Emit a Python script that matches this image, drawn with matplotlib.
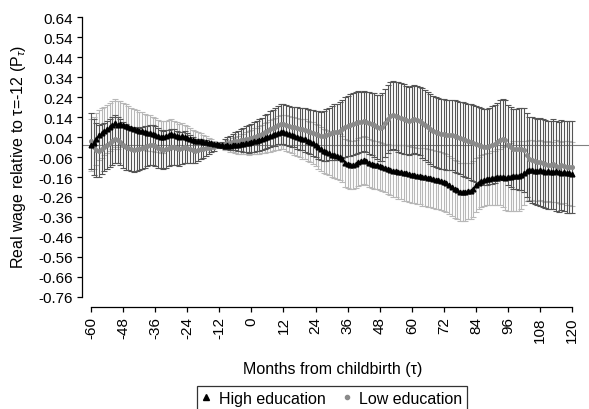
import numpy as np
import matplotlib
matplotlib.use('Agg')
import matplotlib.pyplot as plt
from matplotlib.lines import Line2D

plt.rcParams['font.family'] = ['Liberation Sans', 'DejaVu Sans']
plt.rcParams['mathtext.fontset'] = 'custom'
plt.rcParams['mathtext.rm'] = 'Liberation Sans'
plt.rcParams['mathtext.it'] = 'Liberation Sans:italic'

# months relative to childbirth
months = np.arange(-60, 121)

# high education: point estimate and half-width of confidence band
high_est = [
    0.00, 0.01, 0.03, 0.05, 0.06, 0.07, 0.08, 0.09, 0.10, 0.11, 0.10, 0.105,
    0.10, 0.095, 0.09, 0.085, 0.08, 0.075, 0.07, 0.07, 0.065, 0.06, 0.06, 0.055,
    0.05, 0.045, 0.04, 0.04, 0.045, 0.05, 0.055, 0.05, 0.045, 0.04, 0.045, 0.04,
    0.035, 0.03, 0.025, 0.02, 0.02, 0.02, 0.015, 0.015, 0.01, 0.01, 0.005, 0.005,
    0.0,
    0.0, -0.005, 0.0, -0.005, 0.0, 0.0, 0.0, 0.005, 0.005, 0.01, 0.01, 0.015,
    0.02, 0.02, 0.025, 0.03, 0.035, 0.04, 0.045, 0.05, 0.055, 0.06, 0.065, 0.065,
    0.06, 0.055, 0.05, 0.045, 0.04, 0.035, 0.03, 0.03, 0.02, 0.015, 0.01, 0.0,
    -0.01, -0.02, -0.03, -0.035, -0.04, -0.05, -0.05, -0.055, -0.06, -0.07, -0.09, -0.095,
    -0.10, -0.10, -0.095, -0.085, -0.08, -0.075, -0.08, -0.09, -0.095, -0.10, -0.10, -0.105,
    -0.11, -0.115, -0.12, -0.125, -0.13, -0.13, -0.135, -0.135, -0.14, -0.14, -0.145, -0.15,
    -0.15, -0.155, -0.155, -0.16, -0.16, -0.165, -0.165, -0.17, -0.175, -0.175, -0.18, -0.185,
    -0.19, -0.20, -0.21, -0.22, -0.225, -0.235, -0.235, -0.235, -0.23, -0.23, -0.22, -0.20,
    -0.19, -0.18, -0.175, -0.17, -0.17, -0.165, -0.165, -0.16, -0.16, -0.16, -0.165, -0.16,
    -0.16, -0.155, -0.155, -0.155, -0.15, -0.14, -0.13, -0.125, -0.125, -0.13, -0.13, -0.125,
    -0.13, -0.135, -0.13, -0.135, -0.135, -0.13, -0.135, -0.14, -0.135, -0.14, -0.14, -0.145,
]
high_ci = [
    0.13, 0.13, 0.13, 0.125, 0.125, 0.12, 0.12, 0.12, 0.12, 0.12, 0.12, 0.115,
    0.11, 0.11, 0.105, 0.10, 0.10, 0.10, 0.095, 0.095, 0.09, 0.09, 0.09, 0.085,
    0.085, 0.08, 0.08, 0.08, 0.075, 0.075, 0.075, 0.07, 0.07, 0.065, 0.065, 0.06,
    0.06, 0.055, 0.05, 0.05, 0.045, 0.04, 0.035, 0.03, 0.025, 0.02, 0.015, 0.01,
    0.0,
    0.01, 0.02, 0.025, 0.03, 0.035, 0.04, 0.045, 0.05, 0.05, 0.055, 0.06, 0.06,
    0.065, 0.065, 0.07, 0.07, 0.075, 0.075, 0.08, 0.08, 0.08, 0.085, 0.085, 0.085,
    0.09, 0.09, 0.09, 0.095, 0.095, 0.095, 0.10, 0.10, 0.10, 0.10, 0.105, 0.105,
    0.11, 0.11, 0.11, 0.11, 0.11, 0.11, 0.115, 0.115, 0.115, 0.115, 0.12, 0.12,
    0.12, 0.12, 0.12, 0.12, 0.12, 0.12, 0.12, 0.12, 0.12, 0.12, 0.12, 0.12,
    0.12, 0.12, 0.125, 0.125, 0.13, 0.13, 0.135, 0.135, 0.14, 0.14, 0.14, 0.14,
    0.14, 0.14, 0.14, 0.145, 0.145, 0.145, 0.145, 0.145, 0.145, 0.145, 0.145, 0.145,
    0.145, 0.145, 0.145, 0.145, 0.145, 0.145, 0.145, 0.145, 0.14, 0.14, 0.14, 0.135,
    0.13, 0.13, 0.13, 0.13, 0.13, 0.135, 0.135, 0.14, 0.14, 0.15, 0.16, 0.17,
    0.17, 0.175, 0.175, 0.175, 0.17, 0.16, 0.15, 0.15, 0.15, 0.15, 0.15, 0.15,
    0.15, 0.15, 0.15, 0.15, 0.15, 0.155, 0.155, 0.155, 0.155, 0.16, 0.16, 0.16,
]

# low education: point estimate and half-width of confidence band
low_est = [
    0.02, -0.01, -0.025, -0.03, -0.02, -0.01, 0.0, 0.01, 0.02, 0.03, 0.025, 0.015,
    0.0, -0.01, -0.015, -0.02, -0.025, -0.02, -0.02, -0.015, -0.01, -0.005, 0.0, 0.0,
    -0.005, -0.015, -0.02, -0.025, -0.02, -0.015, -0.01, -0.01, -0.015, -0.02, -0.015, -0.01,
    -0.015, -0.02, -0.025, -0.03, -0.025, -0.02, -0.02, -0.015, -0.015, -0.01, -0.01, -0.005,
    0.0,
    0.0, 0.005, 0.01, 0.01, 0.015, 0.02, 0.02, 0.025, 0.025, 0.03, 0.03, 0.035,
    0.04, 0.045, 0.05, 0.055, 0.065, 0.07, 0.08, 0.085, 0.09, 0.10, 0.105, 0.105,
    0.10, 0.095, 0.09, 0.09, 0.085, 0.08, 0.08, 0.075, 0.07, 0.065, 0.06, 0.055,
    0.05, 0.045, 0.045, 0.05, 0.055, 0.06, 0.065, 0.065, 0.07, 0.08, 0.09, 0.095,
    0.10, 0.105, 0.11, 0.115, 0.115, 0.12, 0.115, 0.11, 0.105, 0.10, 0.09, 0.085,
    0.09, 0.11, 0.13, 0.145, 0.15, 0.145, 0.14, 0.135, 0.13, 0.125, 0.12, 0.125,
    0.13, 0.125, 0.12, 0.11, 0.10, 0.09, 0.08, 0.07, 0.065, 0.06, 0.055, 0.055,
    0.05, 0.05, 0.05, 0.045, 0.04, 0.035, 0.03, 0.025, 0.02, 0.015, 0.01, 0.005,
    0.0, -0.005, -0.01, -0.01, -0.005, 0.0, 0.005, 0.015, 0.025, 0.03, 0.025, 0.0,
    -0.01, -0.02, -0.02, -0.02, -0.02, -0.025, -0.05, -0.07, -0.075, -0.08, -0.085, -0.085,
    -0.09, -0.095, -0.10, -0.10, -0.095, -0.105, -0.11, -0.10, -0.105, -0.11, -0.11, -0.11,
]
low_ci = [
    0.14, 0.14, 0.135, 0.13, 0.125, 0.12, 0.12, 0.12, 0.12, 0.12, 0.115, 0.115,
    0.115, 0.115, 0.11, 0.11, 0.11, 0.11, 0.105, 0.105, 0.105, 0.10, 0.10, 0.10,
    0.10, 0.10, 0.095, 0.095, 0.095, 0.09, 0.09, 0.09, 0.085, 0.085, 0.08, 0.08,
    0.075, 0.07, 0.065, 0.06, 0.055, 0.05, 0.045, 0.04, 0.03, 0.025, 0.02, 0.01,
    0.0,
    0.015, 0.025, 0.03, 0.035, 0.04, 0.045, 0.05, 0.055, 0.06, 0.065, 0.07, 0.07,
    0.075, 0.075, 0.08, 0.08, 0.085, 0.085, 0.09, 0.09, 0.095, 0.095, 0.10, 0.10,
    0.10, 0.10, 0.10, 0.10, 0.105, 0.105, 0.105, 0.11, 0.11, 0.11, 0.115, 0.115,
    0.12, 0.12, 0.125, 0.13, 0.13, 0.135, 0.14, 0.14, 0.145, 0.145, 0.15, 0.15,
    0.155, 0.155, 0.155, 0.155, 0.15, 0.15, 0.15, 0.155, 0.155, 0.16, 0.16, 0.165,
    0.17, 0.17, 0.17, 0.17, 0.17, 0.17, 0.175, 0.175, 0.175, 0.17, 0.17, 0.17,
    0.17, 0.17, 0.17, 0.175, 0.175, 0.175, 0.175, 0.175, 0.175, 0.175, 0.175, 0.175,
    0.175, 0.175, 0.175, 0.18, 0.18, 0.18, 0.185, 0.185, 0.185, 0.19, 0.19, 0.19,
    0.19, 0.19, 0.19, 0.19, 0.19, 0.195, 0.195, 0.195, 0.20, 0.20, 0.20, 0.20,
    0.20, 0.20, 0.20, 0.205, 0.205, 0.21, 0.21, 0.21, 0.215, 0.215, 0.215, 0.22,
    0.22, 0.22, 0.22, 0.22, 0.225, 0.225, 0.225, 0.225, 0.225, 0.23, 0.23, 0.23,
]

xticks = np.arange(-60, 121, 12)
yticks = np.round(np.arange(-0.76, 0.65, 0.10), 2)

fig = plt.figure(figsize=(5.89, 4.10), dpi=100)
ax = fig.add_axes([82 / 589, 1 - 308 / 410, 508 / 589, 294 / 410])

ax.axhline(0, color='#808080', lw=0.8, zorder=0)

ax.errorbar(months, high_est, yerr=high_ci, fmt='none', ecolor='#b8b8b8',
            elinewidth=0.8, capsize=2.5, capthick=0.8, zorder=1)
ax.errorbar(months, low_est, yerr=low_ci, fmt='none', ecolor='#555555',
            elinewidth=0.8, capsize=2.5, capthick=0.8, zorder=2)
ax.plot(months, low_est, ls='none', marker='o', ms=2.6, color='#8a8a8a',
        mec='#8a8a8a', zorder=3)
ax.plot(months, high_est, ls='none', marker='^', ms=3.4, color='black', zorder=4)

ax.set_xlim(-63.4, 126.7)
ax.set_ylim(-0.81, 0.66)

for s in ['top', 'right']:
    ax.spines[s].set_visible(False)
ax.spines['left'].set_bounds(-0.76, 0.64)
ax.spines['bottom'].set_bounds(-60, 120)
ax.spines['left'].set_linewidth(0.9)
ax.spines['bottom'].set_linewidth(0.9)

ax.set_xticks(xticks)
ax.set_xticklabels([str(t) for t in xticks], rotation=90, fontsize=11)
ax.set_yticks(yticks)
ax.set_yticklabels(['%.2f' % t for t in yticks], fontsize=11)
ax.tick_params(axis='both', length=3.6, width=0.9, pad=3)

ax.set_ylabel(r'Real wage relative to τ=-12 (P$_{τ}$)', fontsize=11.5)
ax.yaxis.set_label_coords(-0.106, 0.514)
ax.set_xlabel('Months from childbirth (τ)', fontsize=11.5)
ax.xaxis.set_label_coords(0.494, -0.184)

handles = [
    Line2D([], [], ls='none', marker='^', ms=4, color='black'),
    Line2D([], [], ls='none', marker='o', ms=3, color='#8a8a8a'),
]
leg = fig.legend(handles, ['High education', 'Low education'], ncol=2,
                 loc='upper center', bbox_to_anchor=(332 / 589, 1 - 387 / 410),
                 borderaxespad=0, fontsize=11.5, frameon=True, fancybox=False,
                 handlelength=0.6, handletextpad=0.5, columnspacing=1.0,
                 borderpad=0.3)
leg.get_frame().set_edgecolor('black')
leg.get_frame().set_linewidth(0.9)

fig.savefig('out.png', dpi=100)
